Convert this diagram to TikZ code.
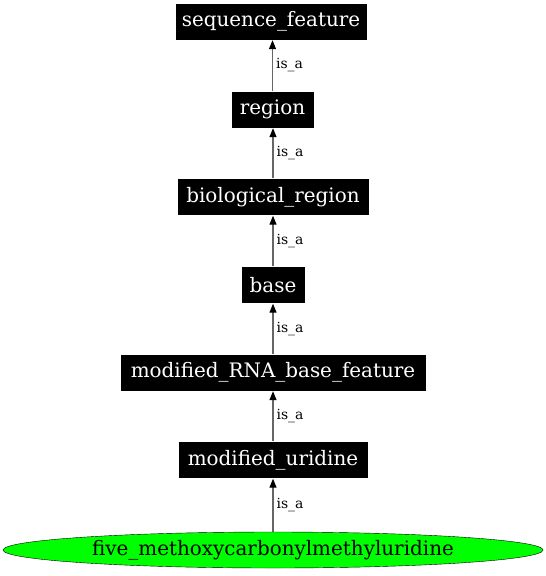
\documentclass[tikz,border=0pt]{standalone}
\usepackage{fontspec}
\setmainfont{DejaVu Serif}
\usetikzlibrary{arrows.meta,shapes.geometric}

\begin{document}
\begin{tikzpicture}[x=1bp,y=-1bp,
    term/.style={draw=white,fill=black,text=white,inner sep=0pt,
        minimum height=37bp,font=\fontsize{20}{22}\selectfont},
    leaf/.style={ellipse,draw=black,fill=green,inner sep=0pt,
        minimum width=540bp,minimum height=36bp,font=\fontsize{20}{22}\selectfont},
    isa/.style={draw=black!60,line width=1.1bp,-{Triangle[color=black,length=9bp,width=7bp]}},
    lbl/.style={right,inner sep=3bp,font=\fontsize{14}{15}\selectfont}]
    \useasboundingbox (0,0) rectangle (546,576);
    \node[term,minimum width=192bp] (seqfeat) at (271,21.5) {sequence\_feature};
    \node[term,minimum width=83bp] (region) at (272.5,109.5) {region};
    \node[term,minimum width=192bp] (bioregion) at (273,197) {biological\_region};
    \node[term,minimum width=64bp] (base) at (273,285) {base};
    \node[term,minimum width=306bp] (modrna) at (273,372.5) {modified\_RNA\_base\_feature};
    \node[term,minimum width=190bp] (moduri) at (273,460) {modified\_uridine};
    \node[leaf] (fivemcm) at (273,550) {five\_methoxycarbonylmethyluridine};
    % is_a edges
    \draw[isa] (region.north) -- node[lbl]{is\_a} (region.north |- seqfeat.south);
    \draw[isa] (bioregion.north) -- node[lbl]{is\_a} (bioregion.north |- region.south);
    \draw[isa] (base) -- node[lbl]{is\_a} (bioregion);
    \draw[isa] (modrna) -- node[lbl]{is\_a} (base);
    \draw[isa] (moduri) -- node[lbl]{is\_a} (modrna);
    \draw[isa] (fivemcm) -- node[lbl]{is\_a} (moduri);
\end{tikzpicture}
\end{document}
